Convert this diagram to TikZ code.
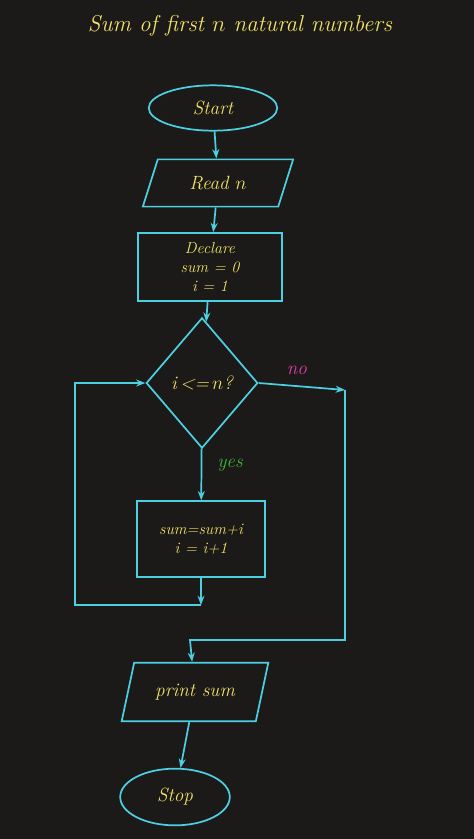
\documentclass[tikz,border=0pt]{standalone}
\usepackage{tikz}
\usetikzlibrary{shapes.geometric, arrows.meta}
\definecolor{board}{HTML}{1C1A18}
\definecolor{chalk}{HTML}{4CCFE0}
\definecolor{ink}{HTML}{F2E36A}
\definecolor{nocol}{HTML}{E23FA8}
\definecolor{yescol}{HTML}{3FB83A}
\begin{document}
\begin{tikzpicture}[x=0.02646cm, y=-0.02646cm, line width=1.3pt, draw=chalk,
    every node/.style={text=ink, font=\Large\itshape},
    term/.style={ellipse, draw=chalk, line width=1.3pt},
    io/.style={trapezium, trapezium left angle=70, trapezium right angle=110, trapezium stretches=true, draw=chalk, line width=1.3pt},
    proc/.style={rectangle, draw=chalk, line width=1.3pt, align=center, font=\large\itshape, inner sep=2pt},
    arr/.style={-{Stealth[length=7pt]}, chalk}]
            \fill[board] (0,0) rectangle (474,839);
            \node[font=\LARGE\itshape] at (240,26) (title) {Sum of first $n$ natural numbers};
            \node[term, minimum width=3.4cm, minimum height=1.2cm] at (213,108) (start) {Start};
            \node[io, minimum width=4cm, minimum height=1.25cm] at (218,183) (read) {Read $n$};
            \node[proc, minimum width=3.8cm, minimum height=1.8cm] at (210,267) (decl) {Declare\\ sum = 0\\ i = 1};
            \node[diamond, draw=chalk, line width=1.3pt, minimum width=2.95cm, minimum height=3.45cm, inner sep=0pt] at (202,383) (cond) {i\,<=\,$n$?};
            \node[proc, minimum width=3.4cm, minimum height=2cm] at (201,539) (body) {sum=sum+i\\ i = i+1};
            \node[io, minimum width=3.9cm, minimum height=1.55cm] at (195,692) (print) {print sum};
            \node[term, minimum width=2.9cm, minimum height=1.5cm] at (175,797) (stop) {Stop};
            \node[text=nocol] at (297,370) (no) {no};
            \node[text=yescol] at (230,465) (yes) {yes};
            \coordinate (loop) at (201,605);
            \coordinate (exit) at (345,390);
            \coordinate (join) at (190,640);

            \draw [arr] (start) -- (read);
            \draw [arr] (read) -- (decl);
            \draw [arr] (decl) -- (cond);
            \draw [arr] (cond) -- (body);
            \draw [arr] (body) -- (loop);
            \draw [arr] (loop) -| (75,383) -- (cond.west);
            \draw [arr] (cond.east) -- (exit);
            \draw [arr] (exit) |- (join) -- (print);
            \draw [arr] (print) -- (stop);
        \end{tikzpicture}
\end{document}
